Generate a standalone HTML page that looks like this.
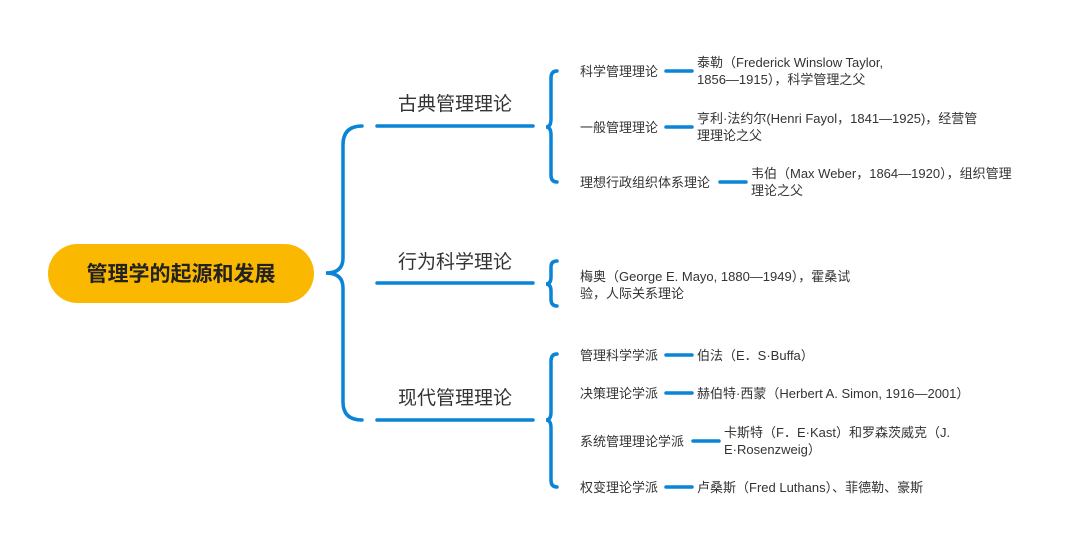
<!DOCTYPE html>
<html><head><meta charset="utf-8"><style>
body{margin:0;background:#fff;}
svg text{font-family:"Liberation Sans","Noto Sans CJK SC",sans-serif;fill:#333;}
</style></head><body>
<svg width="1080" height="549" viewBox="0 0 1080 549" xmlns="http://www.w3.org/2000/svg">
<rect width="1080" height="549" fill="#fff"/>
<rect x="48" y="244" width="266" height="59" rx="29.5" fill="#fbb800"/>
<text x="181" y="281" font-size="21" font-weight="bold" text-anchor="middle" style="fill:#222">管理学的起源和发展</text>
<g fill="none" stroke="#0a84d6" stroke-width="3.5" stroke-linecap="round">
<path d="M362 126 Q343 126 343 145 L343 258 Q343 273 326 273 Q343 273 343 288 L343 402 Q343 420 362 420"/>
<path d="M377 126 H533 M377 283 H533 M377 420 H533"/>
<path d="M557 71 Q551 71 551 78 L551 119 Q551 127 546 127 Q551 127 551 135 L551 175 Q551 182 557 182"/>
<path d="M557 261 Q551 261 551 267 L551 277 Q551 284 546 284 Q551 284 551 291 L551 299 Q551 306 557 306"/>
<path d="M557 354 Q551 354 551 361 L551 412 Q551 420 546 420 Q551 420 551 428 L551 480 Q551 487 557 487"/>
<path d="M666 71 H692 M666 127 H692 M720 182 H746 M666 355 H692 M666 393 H692 M693 441 H719 M666 487 H692"/>
</g>
<g font-size="19" text-anchor="middle">
<text x="455" y="110">古典管理理论</text>
<text x="455" y="268">行为科学理论</text>
<text x="455" y="404">现代管理理论</text>
</g>
<g font-size="13">
<text x="580" y="76">科学管理理论</text>
<text x="697" y="67">泰勒（Frederick Winslow Taylor,</text>
<text x="697" y="84">1856—1915），科学管理之父</text>
<text x="580" y="132">一般管理理论</text>
<text x="697" y="123">亨利·法约尔(Henri Fayol，1841—1925)，经营管</text>
<text x="697" y="140">理理论之父</text>
<text x="580" y="187">理想行政组织体系理论</text>
<text x="751" y="178">韦伯（Max Weber，1864—1920），组织管理</text>
<text x="751" y="195">理论之父</text>
<text x="580" y="281">梅奥（George E. Mayo, 1880—1949），霍桑试</text>
<text x="580" y="298">验，人际关系理论</text>
<text x="580" y="360">管理科学学派</text>
<text x="697" y="360">伯法（E．S·Buffa）</text>
<text x="580" y="398">决策理论学派</text>
<text x="697" y="398">赫伯特·西蒙（Herbert A. Simon, 1916—2001）</text>
<text x="580" y="446">系统管理理论学派</text>
<text x="724" y="437">卡斯特（F．E·Kast）和罗森茨威克（J.</text>
<text x="724" y="454">E·Rosenzweig）</text>
<text x="580" y="492">权变理论学派</text>
<text x="697" y="492">卢桑斯（Fred Luthans）、菲德勒、豪斯</text>
</g>
</svg>
</body></html>
